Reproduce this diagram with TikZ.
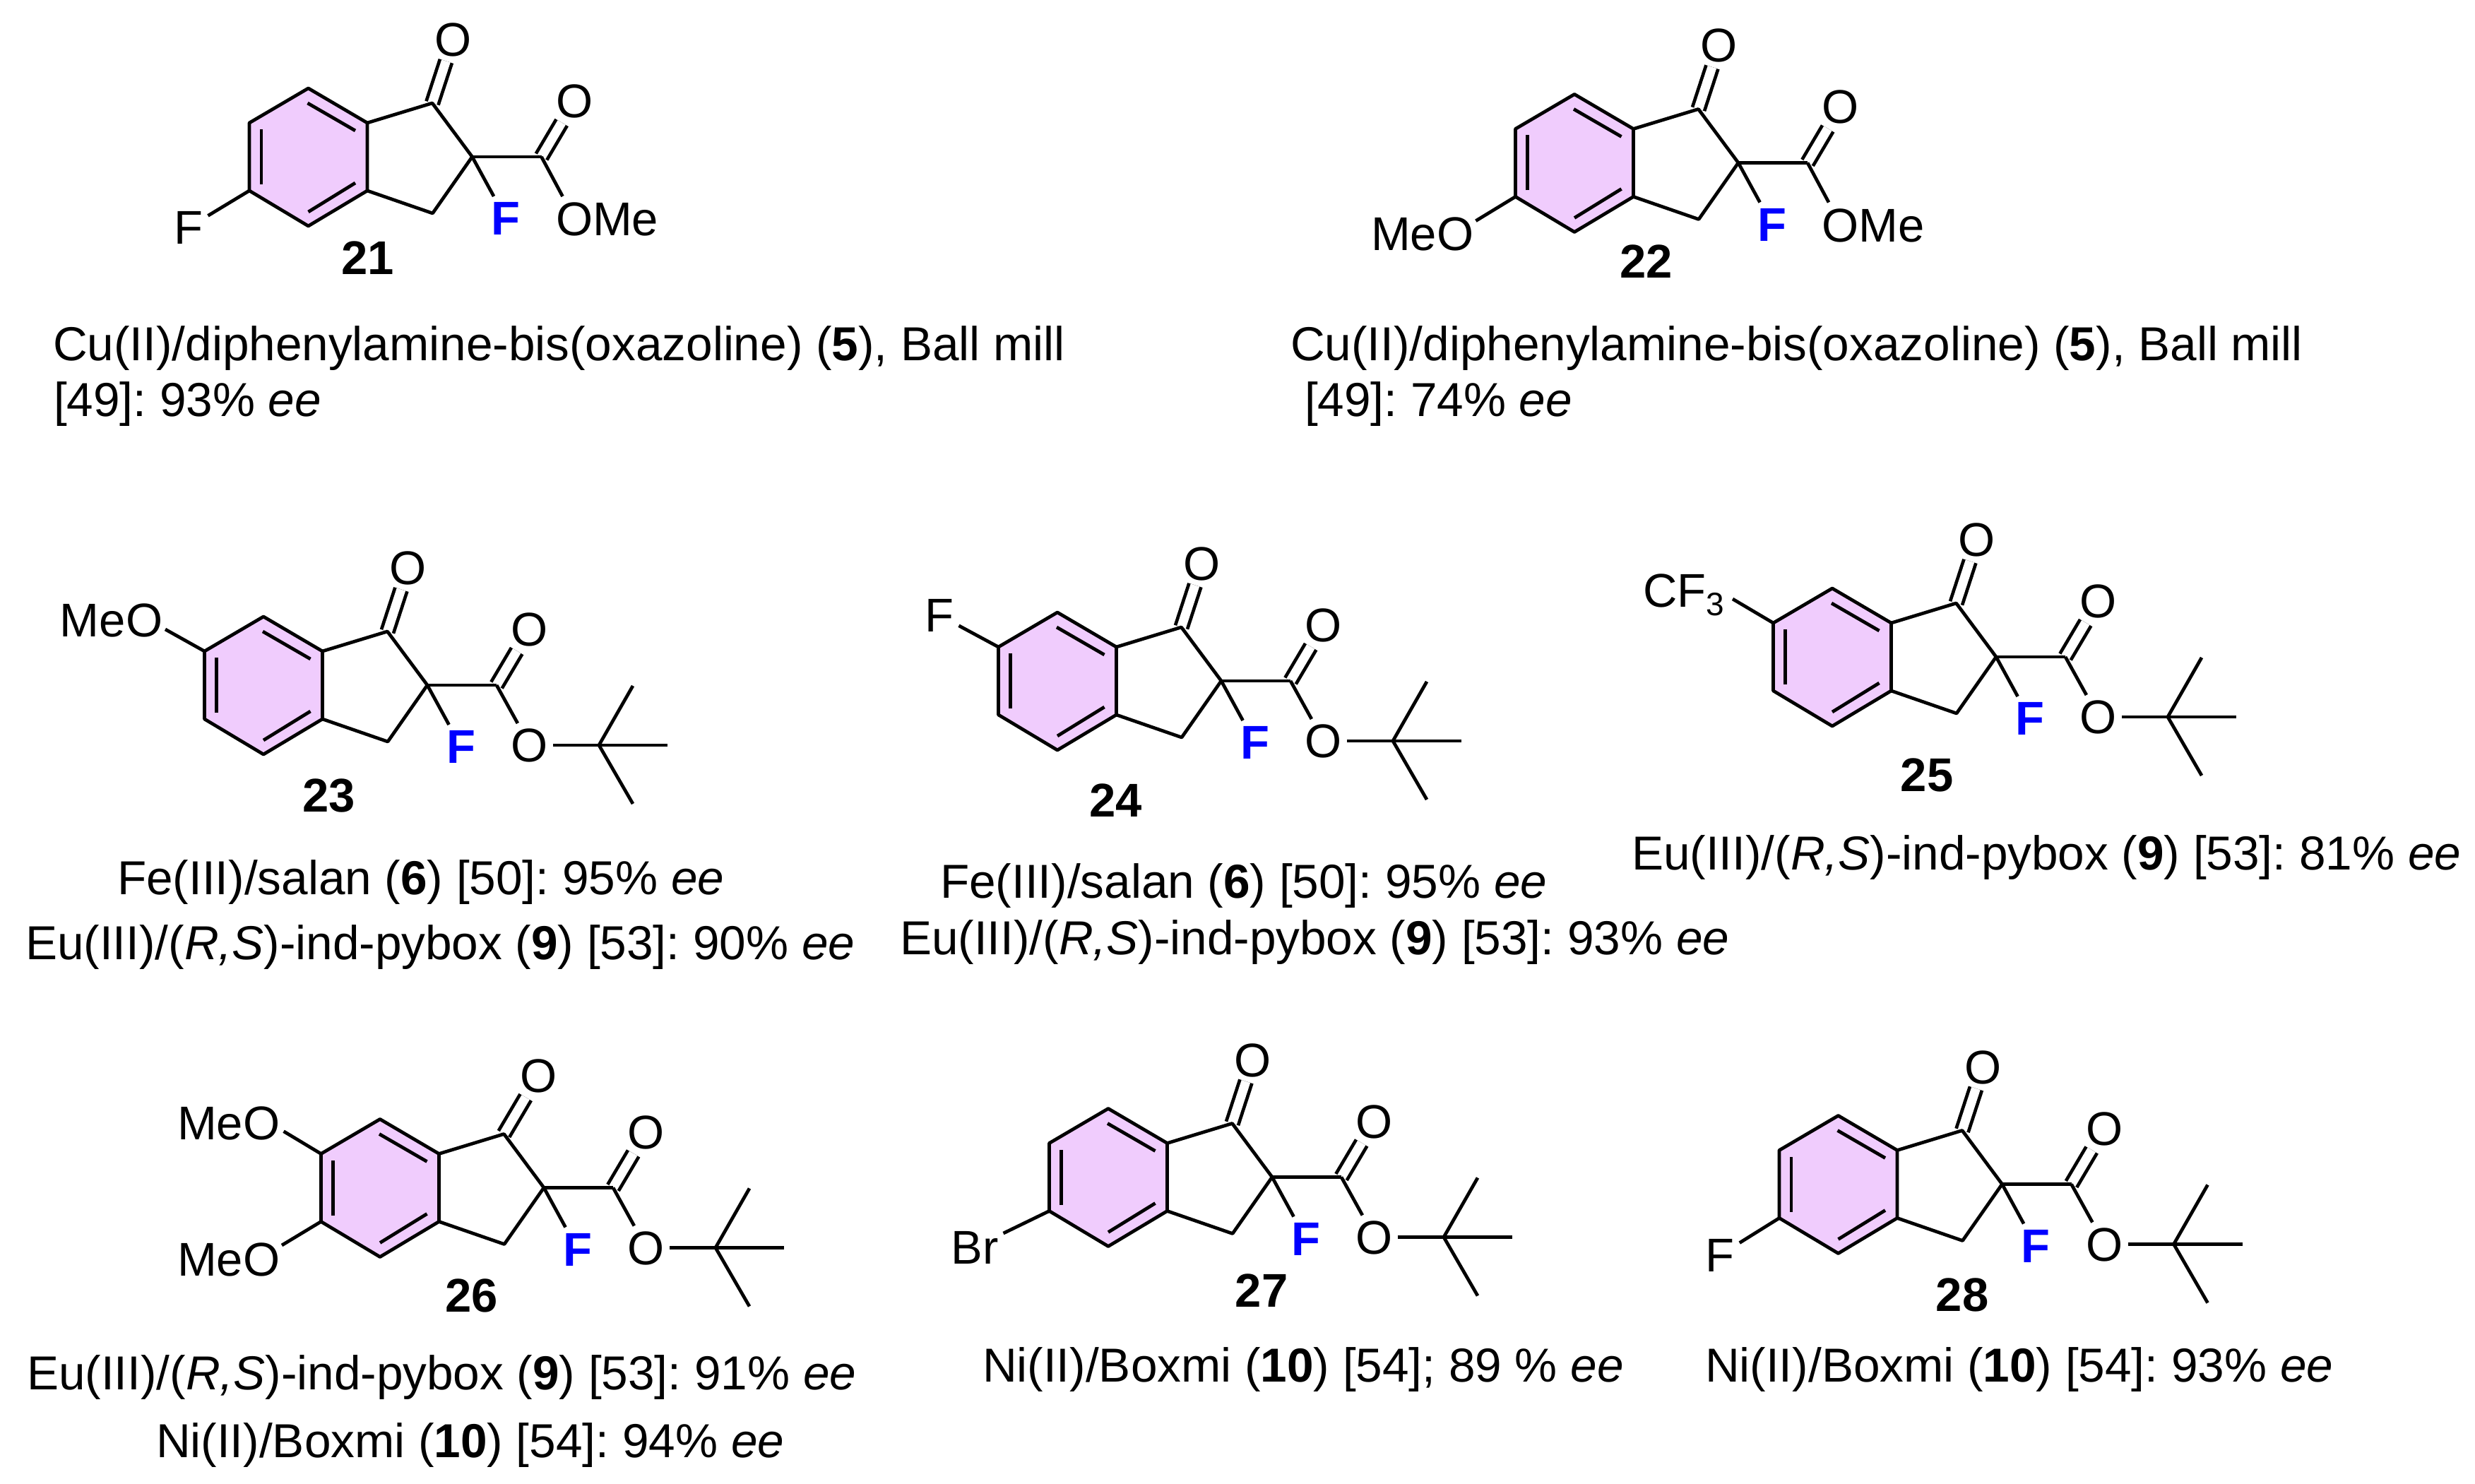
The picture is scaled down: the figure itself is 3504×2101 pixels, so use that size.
\documentclass[tikz,border=0pt]{standalone}
\usepackage{fontspec}
\setmainfont{Liberation Sans}
\frenchspacing
\usetikzlibrary{positioning}
\definecolor{ringfill}{HTML}{F0CCFD}
\newcommand{\chemfont}{\fontsize{13.4pt}{16pt}\selectfont}
\tikzset{
bond/.style={line width=0.95pt,line join=round},
dblbond/.style={double,double distance=2.6pt,line width=0.95pt},
atom/.style={font=\chemfont,inner sep=1.2pt,text height=9.6pt,text depth=0pt},
group/.style={atom,inner sep=0pt,anchor=west},
fluoro/.style={atom,font=\chemfont\bfseries,text=blue},
cmpd/.style={atom,font=\chemfont\bfseries},
caption/.style={font=\fontsize{13.5pt}{16pt}\selectfont,inner sep=0pt,anchor=base west},
}
\newcommand{\indanone}[5]{
\begin{scope}[shift={(#2,#3)}]
    \coordinate (#1ta) at (0,-97);
    \coordinate (#1tr) at (83.5,-48);
    \coordinate (#1br) at (83.5,48);
    \coordinate (#1bo) at (0,98);
    \coordinate (#1bl) at (-83.5,48);
    \coordinate (#1tl) at (-83.5,-48);
    \coordinate (#1c1) at (175.5,-76);
    \coordinate (#1c2) at (232,0);
    \coordinate (#1c3) at (176,80);
    \coordinate (#1ce) at (330,0);
    \coordinate (#1ia) at (-1,-76);
    \coordinate (#1ib) at (66.5,-37);
    \coordinate (#1ic) at (66.5,37);
    \coordinate (#1id) at (0,78);
    \coordinate (#1ie) at (-66.5,39);
    \coordinate (#1if) at (-66.5,-39);
    \node[atom] (#1ok) at (#4,#5) {O};
    \node[atom] (#1oe) at (377,-79.5) {O};
    \node[fluoro] (#1f) at (279.5,87) {F};
    \filldraw[bond,fill=ringfill] (#1ta) -- (#1tr) -- (#1br) -- (#1bo) -- (#1bl) -- (#1tl) -- cycle;
    \draw[bond] (#1ia) -- (#1ib);
    \draw[bond] (#1ic) -- (#1id);
    \draw[bond] (#1ie) -- (#1if);
    \draw[dblbond] (#1c1) -- (#1ok);
    \draw[dblbond] (#1ce) -- (#1oe);
    \draw[bond] (#1tr) -- (#1c1) -- (#1c2) -- (#1c3) -- (#1br);
    \draw[bond] (#1c2) -- (#1ce);
    \draw[bond] (#1c2) -- (#1f);
\end{scope}
}
\newcommand{\tbuester}[3]{
\begin{scope}[shift={(#2,#3)}]
    \node[atom] (#1os) at (377,85) {O};
    \coordinate (#1q) at (475,85);
    \coordinate (#1me1) at (523,1);
    \coordinate (#1me2) at (572,85);
    \coordinate (#1me3) at (523,168);
    \draw[bond] (#1ce) -- (#1os);
    \draw[bond] (#1os) -- (#1q);
    \draw[bond] (#1q) -- (#1me1);
    \draw[bond] (#1q) -- (#1me2);
    \draw[bond] (#1q) -- (#1me3);
\end{scope}
}
\newcommand{\omeester}[3]{
\begin{scope}[shift={(#2,#3)}]
    \node[group] (#1ome) at (349.5,88) {OMe};
    \coordinate (#1oend) at (360,56);
    \draw[bond] (#1ce) -- (#1oend);
\end{scope}
}
\begin{document}
\begin{tikzpicture}[x=0.2pt,y=-0.2pt]
\useasboundingbox (0,0) rectangle (3504,2101);

\indanone{a}{436.5}{222}{205}{-166.5}
\omeester{a}{436.5}{222}
\node[atom] (afs) at (267,322) {F};
\draw[bond] (abl) -- (afs);
\node[cmpd] (n21) at (521,365) {21};

\indanone{b}{2229}{230.5}{205}{-166.5}
\omeester{b}{2229}{230.5}
\node[group] (bmeo) at (1940,330.7) {MeO};
\coordinate (bmeoend) at (2089.4,312.7);
\draw[bond] (bbl) -- (bmeoend);
\node[cmpd] (n22) at (2330.6,370) {22};

\indanone{c}{373}{970}{205}{-166.5}
\tbuester{c}{373}{970}
\node[group] (cmeo) at (84,878) {MeO};
\coordinate (cmeoend) at (234,891);
\draw[bond] (ctl) -- (cmeoend);
\node[cmpd] (n23) at (466,1126) {23};

\indanone{d}{1497}{964}{205}{-166.5}
\tbuester{d}{1497}{964}
\node[atom] (dfs) at (1330,871) {F};
\draw[bond] (dtl) -- (dfs);
\node[cmpd] (n24) at (1579.7,1132.7) {24};

\indanone{e}{2594}{930}{205}{-166.5}
\tbuester{e}{2594}{930}
\node[group] (ecf) at (2325,835.7) {CF\raisebox{-2.4pt}{\fontsize{9.2pt}{11pt}\selectfont 3}};
\coordinate (ecfend) at (2453,848);
\draw[bond] (etl) -- (ecfend);
\node[cmpd] (n25) at (2728,1097) {25};

\indanone{f}{538}{1681.5}{224.5}{-159}
\tbuester{f}{538}{1681.5}
\node[group] (fmeoa) at (250,1589) {MeO};
\node[group] (fmeob) at (250,1782) {MeO};
\coordinate (fmeoaend) at (401.6,1601.7);
\coordinate (fmeobend) at (399,1763);
\draw[bond] (ftl) -- (fmeoaend);
\draw[bond] (fbl) -- (fmeobend);
\node[cmpd] (n26) at (668,1833) {26};

\indanone{g}{1569}{1666.5}{205}{-166.5}
\tbuester{g}{1569}{1666.5}
\node[atom] (gbr) at (1380,1765.7) {Br};
\draw[bond] (gbl) -- (gbr);
\node[cmpd] (n27) at (1786,1826.7) {27};

\indanone{h}{2602.5}{1676.5}{205}{-166.5}
\tbuester{h}{2602.5}{1676.5}
\node[atom] (hfs) at (2435.3,1776.7) {F};
\draw[bond] (hbl) -- (hfs);
\node[cmpd] (n28) at (2778,1832.7) {28};

\node[caption] (capa1) at (74,511) {Cu(II)/diphenylamine-bis(oxazoline) (\textbf{5}), Ball mill};
\node[caption] (capa2) at (75,590) {[49]: 93\% \textit{ee}};
\node[caption] (capb1) at (1826,511) {Cu(II)/diphenylamine-bis(oxazoline) (\textbf{5}), Ball mill};
\node[caption] (capb2) at (1846,590) {[49]: 74\% \textit{ee}};
\node[caption] (capc1) at (165,1267) {Fe(III)/salan (\textbf{6}) [50]: 95\% \textit{ee}};
\node[caption] (capc2) at (35,1358) {Eu(III)/(\textit{R,S})-ind-pybox (\textbf{9}) [53]: 90\% \textit{ee}};
\node[caption] (capd1) at (1330,1272) {Fe(III)/salan (\textbf{6}) [50]: 95\% \textit{ee}};
\node[caption] (capd2) at (1273,1351) {Eu(III)/(\textit{R,S})-ind-pybox (\textbf{9}) [53]: 93\% \textit{ee}};
\node[caption] (cape1) at (2309,1232) {Eu(III)/(\textit{R,S})-ind-pybox (\textbf{9}) [53]: 81\% \textit{ee}};
\node[caption] (capf1) at (37,1967) {Eu(III)/(\textit{R,S})-ind-pybox (\textbf{9}) [53]: 91\% \textit{ee}};
\node[caption] (capf2) at (220,2063) {Ni(II)/Boxmi (\textbf{10}) [54]: 94\% \textit{ee}};
\node[caption] (capg1) at (1390,1956) {Ni(II)/Boxmi (\textbf{10}) [54]; 89 \% \textit{ee}};
\node[caption] (caph1) at (2413,1956) {Ni(II)/Boxmi (\textbf{10}) [54]: 93\% \textit{ee}};
\end{tikzpicture}
\end{document}
